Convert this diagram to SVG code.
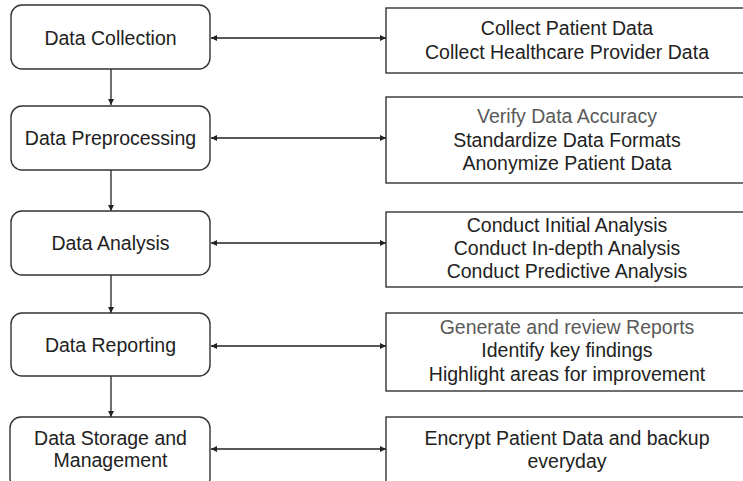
<svg xmlns="http://www.w3.org/2000/svg" width="743" height="481" viewBox="0 0 743 481">
<defs>
<marker id="ah" viewBox="0 0 10 10" refX="10" refY="5" markerWidth="6" markerHeight="6" markerUnits="userSpaceOnUse" orient="auto-start-reverse">
<path d="M0,0 L10,5 L0,10 z" fill="#222"/>
</marker>
<style>
.step{fill:#fff;stroke:#333;stroke-width:1.4}
.info{fill:#fff;stroke:#333;stroke-width:1.4}
.t{font-family:"Liberation Sans",Arial,sans-serif;font-size:19.5px;fill:#222;text-anchor:middle}
.g{fill:#5a5a5a}
.c{stroke:#222;stroke-width:1.3;fill:none}
</style>
</defs>
<rect width="743" height="481" fill="#fff"/>
<g id="connectors">
<line class="c" x1="211" y1="38" x2="386" y2="38" marker-start="url(#ah)" marker-end="url(#ah)"/>
<line class="c" x1="211" y1="138" x2="386" y2="138" marker-start="url(#ah)" marker-end="url(#ah)"/>
<line class="c" x1="211" y1="243" x2="386" y2="243" marker-start="url(#ah)" marker-end="url(#ah)"/>
<line class="c" x1="211" y1="346" x2="386" y2="346" marker-start="url(#ah)" marker-end="url(#ah)"/>
<line class="c" x1="211" y1="449" x2="386" y2="449" marker-start="url(#ah)" marker-end="url(#ah)"/>
<line class="c" x1="111" y1="69" x2="111" y2="105" marker-end="url(#ah)"/>
<line class="c" x1="111" y1="170" x2="111" y2="211" marker-end="url(#ah)"/>
<line class="c" x1="111" y1="275" x2="111" y2="313" marker-end="url(#ah)"/>
<line class="c" x1="111" y1="376" x2="111" y2="417" marker-end="url(#ah)"/>
</g>
<g id="data-collection">
<rect class="step" x="11" y="5" width="199" height="64" rx="11"/>
<text class="t" x="110.5" y="44.5">Data Collection</text>
</g>
<g id="data-preprocessing">
<rect class="step" x="11" y="106" width="199" height="64" rx="11"/>
<text class="t" x="110.5" y="145">Data Preprocessing</text>
</g>
<g id="data-analysis">
<rect class="step" x="11" y="211" width="199" height="64" rx="11"/>
<text class="t" x="110.5" y="249.5">Data Analysis</text>
</g>
<g id="data-reporting">
<rect class="step" x="11" y="313" width="199" height="63" rx="11"/>
<text class="t" x="110.5" y="351.5">Data Reporting</text>
</g>
<g id="data-storage">
<rect class="step" x="10" y="417" width="200" height="72" rx="11"/>
<text class="t" x="110.5" y="445">Data Storage and</text>
<text class="t" x="110.5" y="467">Management</text>
</g>
<g id="collect-info">
<rect class="info" x="386" y="8" width="370" height="65"/>
<text class="t" x="567" y="35">Collect Patient Data</text>
<text class="t" x="567" y="59">Collect Healthcare Provider Data</text>
</g>
<g id="preprocess-info">
<rect class="info" x="386" y="97" width="370" height="86"/>
<text class="t g" x="567" y="123">Verify Data Accuracy</text>
<text class="t" x="567" y="146.5">Standardize Data Formats</text>
<text class="t" x="567" y="169.5">Anonymize Patient Data</text>
</g>
<g id="analysis-info">
<rect class="info" x="386" y="212" width="370" height="75"/>
<text class="t" x="567" y="232">Conduct Initial Analysis</text>
<text class="t" x="567" y="255">Conduct In-depth Analysis</text>
<text class="t" x="567" y="278">Conduct Predictive Analysis</text>
</g>
<g id="reporting-info">
<rect class="info" x="386" y="313" width="370" height="78"/>
<text class="t g" x="567" y="333.5">Generate and review Reports</text>
<text class="t" x="567" y="357">Identify key findings</text>
<text class="t" x="567" y="381">Highlight areas for improvement</text>
</g>
<g id="storage-info">
<rect class="info" x="386" y="417" width="370" height="80"/>
<text class="t" x="567" y="445">Encrypt Patient Data and backup</text>
<text class="t" x="567" y="468">everyday</text>
</g>
</svg>
